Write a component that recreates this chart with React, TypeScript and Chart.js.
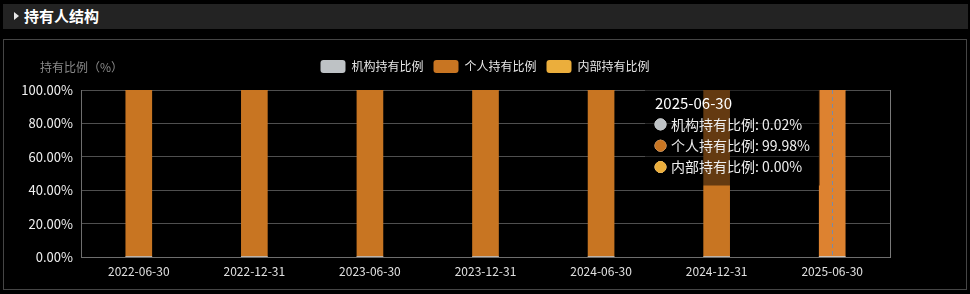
import React, { useEffect, useRef } from "react";
import { Chart, registerables, Tooltip } from "chart.js";

Chart.register(...registerables);

const categories = ["2022-06-30", "2022-12-31", "2023-06-30", "2023-12-31", "2024-06-30", "2024-12-31", "2025-06-30"];
const institutional = [0.02, 0.02, 0.02, 0.02, 0.02, 0.02, 0.02];
const individual = [99.98, 99.98, 99.98, 99.98, 99.98, 99.98, 99.98];
const internal = [0, 0, 0, 0, 0, 0, 0];
const seriesNames = ["机构持有比例", "个人持有比例", "内部持有比例"];
const yTicks = [0, 20, 40, 60, 80, 100];
const activeIndex = 6;

const COLORS = ["#BEC2C5", "#C87522", "#EBAE3C"];
const HOVER = ["#CDD1D4", "#DD8230", "#F2BC52"];
const FONT = '"Noto Sans CJK SC", "Noto Sans", sans-serif';

(Tooltip as any).positioners.fixedLeft = function (elements: any[]) {
  if (!elements.length) return false;
  const ch = (this as any).chart;
  return { x: ch.chartArea.right - 245, y: 44, xAlign: "left", yAlign: "top" };
};

const framePlugin = {
  id: "frame",
  beforeDatasetsDraw(chart: any) {
    const { ctx } = chart;
    ctx.save();
    ctx.fillStyle = "#8a8a8a";
    ctx.font = "12px " + FONT;
    ctx.textBaseline = "middle";
    ctx.textAlign = "left";
    ctx.fillText("持有比例（%）", 36, 27);
    ctx.restore();
  },
  afterDatasetsDraw(chart: any) {
    const { ctx, chartArea } = chart;
    const x = chart.scales.x.getPixelForValue(activeIndex);
    ctx.save();
    ctx.strokeStyle = "#7a8aa6";
    ctx.lineWidth = 1;
    ctx.setLineDash([4, 3]);
    ctx.beginPath();
    ctx.moveTo(Math.round(x) + 0.5, chartArea.top);
    ctx.lineTo(Math.round(x) + 0.5, chartArea.bottom);
    ctx.stroke();
    ctx.restore();
  },
};

function ChartView() {
  const ref = useRef<HTMLCanvasElement | null>(null);
  useEffect(() => {
    if (!ref.current) return;
    const data = [institutional, individual, internal];
    const chart = new Chart(ref.current, {
      type: "bar",
      data: {
        labels: categories,
        datasets: data.map((d, i) => ({
          label: seriesNames[i],
          data: d,
          backgroundColor: COLORS[i],
          hoverBackgroundColor: HOVER[i],
          borderWidth: 0,
          barThickness: 26,
          stack: "s",
        })),
      },
      options: {
        animation: false,
        responsive: false,
        events: [],
        layout: { padding: { top: 10, left: 0, right: 0, bottom: 0 } },
        scales: {
          x: {
            stacked: true,
            grid: { display: false, drawTicks: false },
            border: { display: true, color: "#6e6e6e" },
            ticks: { color: "#e0e0e0", font: { size: 12, family: FONT }, padding: 7, maxRotation: 0, autoSkip: false },
            afterFit: (s: any) => { s.height = 32; },
          },
          y: {
            stacked: true,
            min: 0,
            max: 100,
            afterBuildTicks: (s: any) => { s.ticks = yTicks.map((v) => ({ value: v })); },
            grid: { color: "#4f4f4f", drawTicks: false },
            border: { display: true, color: "#6e6e6e" },
            ticks: {
              color: "#f0f0f0",
              font: { size: 13, family: FONT },
              padding: 8,
              callback: (v: any) => Number(v).toFixed(2) + "%",
            },
            afterFit: (s: any) => { s.width = 77; },
          },
          yR: {
            type: "linear",
            position: "right",
            display: true,
            grid: { display: false, drawTicks: false },
            border: { display: true, color: "#7a7a7a" },
            ticks: { display: false },
            afterFit: (s: any) => { s.width = 76; },
          },
        },
        plugins: {
          title: {
            display: true,
            text: "",
            weight: 500,
            position: "top",
            font: { size: 0 },
            padding: { top: 0, bottom: 7 },
          },
          legend: {
            position: "top",
            labels: {
              color: "#e6e6e6",
              font: { size: 12, family: FONT },
              boxWidth: 25,
              boxHeight: 13,
              padding: 10,
              useBorderRadius: true,
              borderRadius: 3,
            },
          },
          tooltip: {
            enabled: true,
            mode: "index",
            position: "fixedLeft" as any,
            backgroundColor: "rgba(0,0,0,0.5)",
            borderWidth: 0,
            caretSize: 0,
            caretPadding: 0,
            cornerRadius: 0,
            padding: { left: 10, right: 10, top: 10, bottom: 10 },
            titleColor: "#ffffff",
            titleFont: { size: 15, family: FONT, weight: "normal" },
            titleMarginBottom: 4,
            bodyColor: "#eeeeee",
            bodyFont: { size: 14, family: FONT },
            bodySpacing: 4.5,
            usePointStyle: true,
            boxWidth: 11,
            boxHeight: 11,
            boxPadding: 3,
            displayColors: true,
            callbacks: {
              title: (items: any[]) => (items.length ? categories[items[0].dataIndex] : ""),
              label: (c: any) => `${c.dataset.label}: ${Number(c.raw).toFixed(2)}%`,
              labelColor: (c: any) => ({ borderColor: COLORS[c.datasetIndex], backgroundColor: COLORS[c.datasetIndex], borderWidth: 0 }),
              labelPointStyle: () => ({ pointStyle: "circle", rotation: 0 }),
            },
          },
        },
      },
      plugins: [framePlugin],
    } as any);
    const act = [0, 1, 2].map((d) => ({ datasetIndex: d, index: activeIndex }));
    chart.setActiveElements(act);
    chart.tooltip!.setActiveElements(act, { x: 0, y: 0 });
    chart.update();
    return () => chart.destroy();
  }, []);
  return <canvas ref={ref} width={962} height={249} style={{ position: "absolute", left: 4, top: 40, width: 962, height: 249 }} />;
}

export default function App() {
  useEffect(() => {
    document.body.style.margin = "0";
    document.body.style.background = "#000";
  }, []);
  return (
    <div style={{ position: "relative", width: 970, height: 294, background: "#000", overflow: "hidden", fontFamily: FONT }}>
      <div style={{ position: "absolute", left: 3, top: 4, width: 965, height: 25, background: "#232323" }}>
        <div style={{ position: "absolute", left: 11, top: 8, width: 0, height: 0, borderTop: "4.5px solid transparent", borderBottom: "4.5px solid transparent", borderLeft: "5px solid #e8e8e8" }} />
        <div style={{ position: "absolute", left: 21, top: 2, lineHeight: "20px", fontSize: 15, fontWeight: "bold", color: "#fff" }}>持有人结构</div>
      </div>
      <div style={{ position: "absolute", left: 3, top: 39, width: 962, height: 249, border: "1px solid #454545" }} />
      <ChartView />
    </div>
  );
}
